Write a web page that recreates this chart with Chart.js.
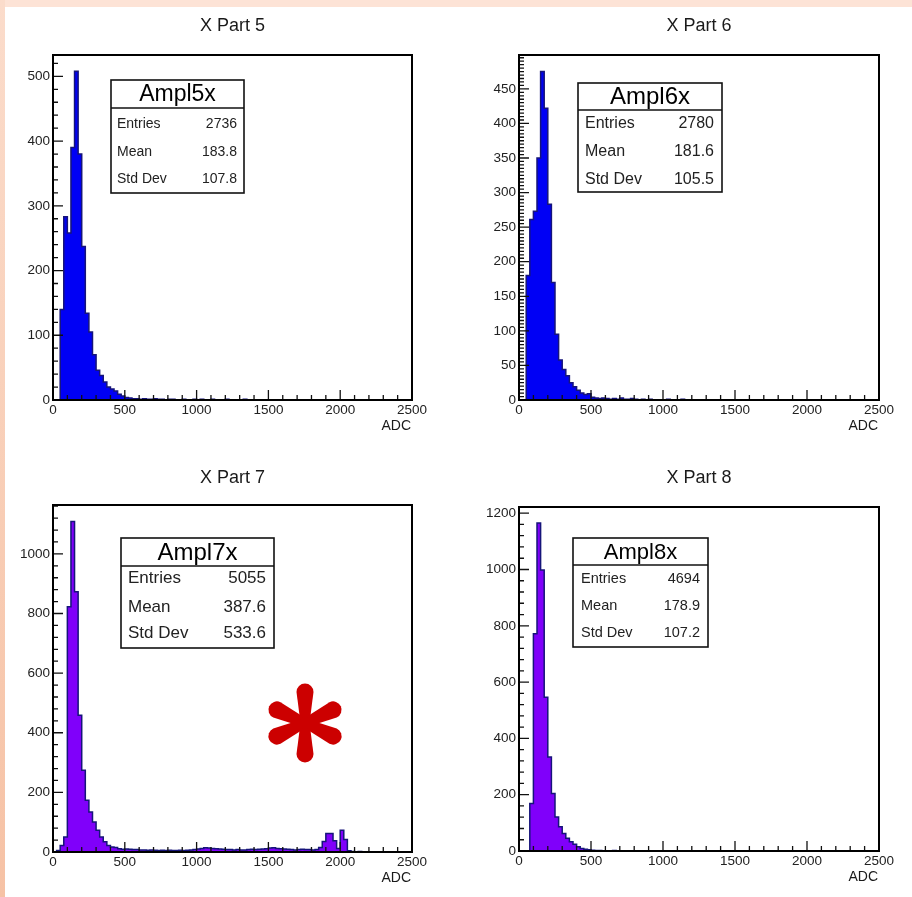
<!DOCTYPE html>
<html>
<head>
<meta charset="utf-8">
<title>ADC amplitude, X parts 5-8</title>
<script src="https://cdn.jsdelivr.net/npm/chart.js"></script>
<style>
  html, body { margin: 0; padding: 0; }
  body {
    width: 912px; height: 897px; position: relative; overflow: hidden;
    background: #fff; font-family: "Liberation Sans", Arial, sans-serif;
  }
  .band-top { position: absolute; left: 0; top: 0; width: 912px; height: 7px; background: #fde3d6; }
  .band-left { position: absolute; left: 0; top: 0; width: 5px; height: 897px; background: linear-gradient(#fbdccb, #f6c2a5); }
  .pad { position: absolute; width: 456px; height: 448px; }
</style>
</head>
<body>
<div class="band-top"></div>
<div class="band-left"></div>
<div class="pad" style="left:0;top:0"><canvas id="pad5" width="456" height="448"></canvas></div>
<div class="pad" style="left:456px;top:0"><canvas id="pad6" width="456" height="448"></canvas></div>
<div class="pad" style="left:0;top:449px"><canvas id="pad7" width="456" height="448"></canvas></div>
<div class="pad" style="left:456px;top:449px"><canvas id="pad8" width="456" height="448"></canvas></div>
<script>
// histogram binning: 100 bins of 25 ADC counts, 0..2500
const binWidth = 25;
const adcTicks = [0, 500, 1000, 1500, 2000, 2500];

const ampl5xCounts = [
  0, 0, 140, 283, 258, 390, 508, 380, 237, 134, 105, 70, 46, 38, 28, 20, 17, 14, 9, 6,
  4, 3, 2, 2, 1, 2, 1, 1, 2, 1, 1, 0, 1, 1, 0, 0, 1, 0, 0, 1,
  0, 1, 0, 0, 1, 0, 0, 0, 1, 0, 0, 0, 0, 1, 0, 0, 0, 0, 0, 0,
  0, 0, 0, 0, 0, 0, 0, 0, 0, 0, 0, 0, 0, 0, 0, 0, 0, 0, 0, 0,
  0, 0, 0, 0, 0, 0, 0, 0, 0, 0, 0, 0, 0, 0, 0, 0, 0, 0, 0, 0
];
const ampl6xCounts = [
  0, 0, 180, 261, 273, 350, 475, 422, 283, 170, 95, 58, 44, 35, 25, 19, 14, 10, 8, 9,
  4, 3, 2, 3, 2, 1, 2, 1, 3, 1, 1, 2, 1, 0, 1, 0, 1, 0, 0, 0,
  0, 1, 0, 0, 0, 1, 0, 0, 0, 0, 0, 0, 0, 0, 0, 0, 0, 0, 0, 0,
  0, 0, 0, 0, 0, 0, 0, 0, 0, 0, 0, 0, 0, 0, 0, 0, 0, 0, 0, 0,
  0, 0, 0, 0, 0, 0, 0, 0, 0, 0, 0, 0, 0, 0, 0, 0, 0, 0, 0, 0
];
const ampl7xCounts = [
  0, 5, 22, 50, 823, 1109, 873, 459, 274, 174, 134, 101, 73, 50, 34, 22, 17, 15, 11, 9,
  10, 9, 8, 8, 7, 7, 6, 7, 6, 5, 6, 5, 6, 5, 5, 6, 5, 6, 7, 8,
  10, 12, 14, 13, 12, 11, 10, 9, 8, 8, 7, 8, 7, 7, 8, 9, 8, 9, 10, 11,
  13, 14, 12, 11, 10, 9, 8, 7, 8, 9, 8, 8, 7, 8, 15, 35, 62, 62, 38, 12,
  73, 42, 4, 2, 1, 2, 1, 1, 0, 1, 1, 0, 1, 0, 0, 1, 0, 1, 0, 0
];
const ampl8xCounts = [
  0, 0, 0, 169, 772, 1165, 998, 546, 334, 204, 121, 86, 62, 45, 33, 24, 15, 9, 6, 4,
  3, 2, 2, 1, 1, 1, 2, 1, 1, 0, 1, 0, 1, 0, 0, 1, 0, 0, 0, 0,
  0, 0, 0, 0, 0, 0, 0, 0, 0, 0, 0, 0, 0, 0, 0, 0, 0, 0, 0, 0,
  0, 0, 0, 0, 0, 0, 0, 0, 0, 0, 0, 0, 0, 0, 0, 0, 0, 0, 0, 0,
  0, 0, 0, 0, 0, 0, 0, 0, 0, 0, 0, 0, 0, 0, 0, 0, 0, 0, 0, 0
];

const padTitles = ['X Part 5', 'X Part 6', 'X Part 7', 'X Part 8'];
const statNames = ['Ampl5x', 'Ampl6x', 'Ampl7x', 'Ampl8x'];
const statEntries = ['2736', '2780', '5055', '4694'];
const statMeans = ['183.8', '181.6', '387.6', '178.9'];
const statStdDevs = ['107.8', '105.5', '533.6', '107.2'];
const yMaxima = [533, 499, 1164, 1222];
const yLabelTicks = [
  [0, 100, 200, 300, 400, 500],
  [0, 50, 100, 150, 200, 250, 300, 350, 400, 450],
  [0, 200, 400, 600, 800, 1000],
  [0, 200, 400, 600, 800, 1000, 1200]
];
const yMinorSteps = [20, 5, 40, 40];

// pad geometry in page pixels (origin, frame, stats box)
const pads = [
  { id: 'pad5', ox: 0, oy: 0, frame: [53, 55, 412, 400], fill: '#0000f5',
    box: { x: 111, y: 80, w: 133, h: 113, head: 28, headSize: 23, rowSize: 14, rows: [124, 152, 179], lx: 117, vx: 237 } },
  { id: 'pad6', ox: 456, oy: 0, frame: [519, 55, 879, 400], fill: '#0000f5',
    box: { x: 578, y: 83, w: 144, h: 109, head: 27, headSize: 24, rowSize: 16, rows: [124, 152, 180], lx: 585, vx: 714 } },
  { id: 'pad7', ox: 0, oy: 449, frame: [53, 505, 412, 852], fill: '#8000fa',
    box: { x: 121, y: 538, w: 153, h: 110, head: 28, headSize: 24, rowSize: 17, rows: [578, 607, 633], lx: 128, vx: 266 },
    asterisk: [305, 723] },
  { id: 'pad8', ox: 456, oy: 449, frame: [519, 507, 879, 851], fill: '#8000fa',
    box: { x: 573, y: 538, w: 135, h: 109, head: 27, headSize: 22, rowSize: 14.5, rows: [579, 606, 633], lx: 581, vx: 700 } }
];

const FONT = '"Liberation Sans", Arial, sans-serif';
const Y_AXIS_W = 50;
const X_AXIS_H = 40;

function drawAsterisk(ctx, cx, cy) {
  ctx.save();
  ctx.fillStyle = '#cc0000';
  ctx.translate(cx, cy);
  [-90, 90, -25, 25, 155, 205].forEach(deg => {
    ctx.save();
    ctx.rotate(deg * Math.PI / 180);
    ctx.beginPath();
    ctx.moveTo(0, -4.5);
    ctx.lineTo(31, -8.5);
    ctx.arc(31, 0, 8.5, -Math.PI / 2, Math.PI / 2);
    ctx.lineTo(0, 4.5);
    ctx.closePath();
    ctx.fill();
    ctx.restore();
  });
  ctx.beginPath();
  ctx.arc(0, 0, 6, 0, Math.PI * 2);
  ctx.fill();
  ctx.restore();
}

// ROOT-style pad: frame, inward ticks, title, axis title, stats box
const rootPad = {
  id: 'rootPad',
  afterDraw(chart, args, opts) {
    const ctx = chart.ctx;
    const { left, top, right, bottom } = chart.chartArea;
    const xs = chart.scales.x, ys = chart.scales.y;
    ctx.save();

    ctx.strokeStyle = '#111';
    ctx.lineWidth = 1.3;
    ctx.beginPath();
    for (let v = 0; v <= ys.max; v += opts.yMinor) {
      const y = ys.getPixelForValue(v);
      const len = opts.yMajor.includes(v) ? 10 : 5;
      ctx.moveTo(left, y);
      ctx.lineTo(left + len, y);
    }
    for (let v = 0; v <= 2500; v += 100) {
      const x = xs.getPixelForValue(v);
      const len = v % 500 === 0 ? 10 : 5;
      ctx.moveTo(x, bottom);
      ctx.lineTo(x, bottom - len);
    }
    ctx.stroke();

    ctx.strokeStyle = '#000';
    ctx.lineWidth = 2;
    ctx.strokeRect(left, top, right - left, bottom - top);

    ctx.fillStyle = '#1a1a1a';
    ctx.textBaseline = 'middle';
    ctx.textAlign = 'center';
    ctx.font = '18px ' + FONT;
    ctx.fillText(opts.title, (left + right) / 2, opts.titleY);

    ctx.textAlign = 'right';
    ctx.font = '14px ' + FONT;
    ctx.fillText('ADC', right - 1, bottom + 26);

    const b = opts.box;
    ctx.fillStyle = '#fff';
    ctx.fillRect(b.x, b.y, b.w, b.h);
    ctx.strokeStyle = '#111';
    ctx.lineWidth = 1.6;
    ctx.strokeRect(b.x, b.y, b.w, b.h);
    ctx.beginPath();
    ctx.moveTo(b.x, b.y + b.head);
    ctx.lineTo(b.x + b.w, b.y + b.head);
    ctx.stroke();

    ctx.fillStyle = '#000';
    ctx.textAlign = 'center';
    ctx.font = b.headSize + 'px ' + FONT;
    ctx.fillText(opts.name, b.x + b.w / 2, b.y + b.head / 2 + 1);

    ctx.fillStyle = '#222';
    ctx.font = b.rowSize + 'px ' + FONT;
    ['Entries', 'Mean', 'Std Dev'].forEach((label, i) => {
      ctx.textAlign = 'left';
      ctx.fillText(label, b.lx, b.rows[i]);
      ctx.textAlign = 'right';
      ctx.fillText(opts.values[i], b.vx, b.rows[i]);
    });

    if (opts.asterisk) drawAsterisk(ctx, opts.asterisk[0], opts.asterisk[1]);
    ctx.restore();
  }
};

function toLocalBox(b, ox, oy) {
  return Object.assign({}, b, {
    x: b.x - ox, y: b.y - oy, lx: b.lx - ox, vx: b.vx - ox,
    rows: b.rows.map(r => r - oy)
  });
}

function makePad(k, counts) {
  const p = pads[k];
  const [fl, ft, fr, fb] = p.frame;
  const W = 456, H = 448;
  const points = counts.map((c, i) => ({ x: i * binWidth, y: c }));
  points.push({ x: counts.length * binWidth, y: counts[counts.length - 1] });

  const tickFont = { family: FONT, size: 13.5 };
  const plainNumber = v => String(v);

  return new Chart(document.getElementById(p.id), {
    type: 'line',
    data: {
      datasets: [{
        label: statNames[k],
        data: points,
        stepped: 'before',
        fill: 'origin',
        backgroundColor: p.fill,
        borderColor: '#16147a',
        borderWidth: 1.5,
        pointRadius: 0
      }]
    },
    options: {
      responsive: false,
      animation: false,
      devicePixelRatio: 1,
      layout: {
        padding: {
          left: fl - p.ox - Y_AXIS_W,
          top: ft - p.oy,
          right: W - (fr - p.ox),
          bottom: H - (fb - p.oy) - X_AXIS_H
        }
      },
      plugins: {
        legend: { display: false },
        tooltip: { enabled: false },
        rootPad: {
          title: padTitles[k],
          titleY: (k < 2 ? 26 : 478) - p.oy,
          name: statNames[k],
          values: [statEntries[k], statMeans[k], statStdDevs[k]],
          yMajor: yLabelTicks[k],
          yMinor: yMinorSteps[k],
          box: toLocalBox(p.box, p.ox, p.oy),
          asterisk: p.asterisk ? [p.asterisk[0] - p.ox, p.asterisk[1] - p.oy] : null
        }
      },
      scales: {
        x: {
          type: 'linear',
          min: 0,
          max: 2500,
          grid: { display: false, drawTicks: false },
          border: { display: false },
          ticks: { font: tickFont, color: '#222', padding: 2, maxRotation: 0, autoSkip: false, callback: plainNumber },
          afterBuildTicks: s => { s.ticks = adcTicks.map(v => ({ value: v })); },
          afterFit: s => { s.height = X_AXIS_H; }
        },
        y: {
          type: 'linear',
          min: 0,
          max: yMaxima[k],
          grid: { display: false, drawTicks: false },
          border: { display: false },
          ticks: { font: tickFont, color: '#222', padding: 3, callback: plainNumber },
          afterBuildTicks: s => { s.ticks = yLabelTicks[k].map(v => ({ value: v })); },
          afterFit: s => { s.width = Y_AXIS_W; }
        }
      }
    },
    plugins: [rootPad]
  });
}

makePad(0, ampl5xCounts);
makePad(1, ampl6xCounts);
makePad(2, ampl7xCounts);
makePad(3, ampl8xCounts);
</script>
</body>
</html>
